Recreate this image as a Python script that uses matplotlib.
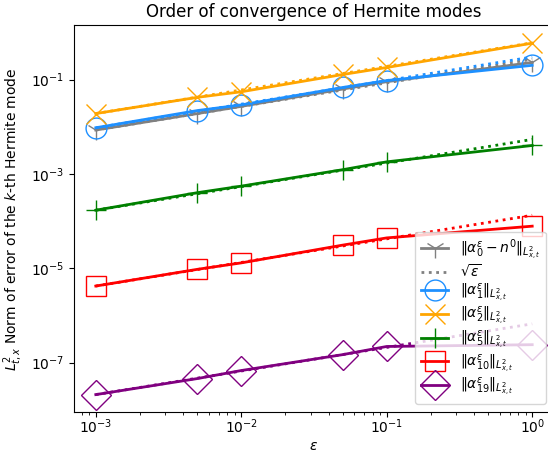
import numpy as np
import matplotlib.pyplot as plt
from matplotlib.ticker import NullLocator

# epsilon values
eps = np.array([1e-3, 5e-3, 1e-2, 5e-2, 1e-1, 1.0])

# errors per Hermite mode
err_n0 = [0.0085, 0.019, 0.027, 0.063, 0.09, 0.23]
err_a1 = [0.0095, 0.022, 0.029, 0.068, 0.095, 0.20]
err_a2 = [0.019, 0.042, 0.055, 0.128, 0.18, 0.59]
err_a5 = [1.7e-4, 4.0e-4, 5.5e-4, 1.23e-3, 1.8e-3, 4.0e-3]
err_a10 = [4.2e-6, 9.5e-6, 1.3e-5, 3.1e-5, 4.4e-5, 7.8e-5]
err_a19 = [2.1e-8, 4.6e-8, 6.8e-8, 1.48e-7, 2.2e-7, 2.4e-7]

yticks = [1e-7, 1e-5, 1e-3, 1e-1]

series = [
    (err_a1, 'dodgerblue', 'o', r'$\|\alpha_1^\varepsilon\|_{L^2_{x,t}}$'),
    (err_a2, 'orange', 'x', r'$\|\alpha_2^\varepsilon\|_{L^2_{x,t}}$'),
    (err_a5, 'green', '+', r'$\|\alpha_5^\varepsilon\|_{L^2_{x,t}}$'),
    (err_a10, 'red', 's', r'$\|\alpha_{10}^\varepsilon\|_{L^2_{x,t}}$'),
    (err_a19, 'purple', 'D', r'$\|\alpha_{19}^\varepsilon\|_{L^2_{x,t}}$'),
]

fig = plt.figure(figsize=(5.48, 4.58), dpi=100)
ax = fig.add_subplot(111)

# reference sqrt(eps) line scaled to first point
def sqrt_ref(err):
    return err[0] * np.sqrt(eps / eps[0])

ax.loglog(eps, err_n0, color='gray', marker='1', markersize=15, linewidth=2,
          label=r'$\|\alpha_0^\varepsilon - n^0\|_{L^2_{x,t}}$')
ax.loglog(eps, sqrt_ref(err_n0), color='gray', linestyle=':', linewidth=2,
          label=r'$\sqrt{\varepsilon}$')

for err, color, marker, label in series:
    ax.loglog(eps, err, color=color, marker=marker, markersize=15, linewidth=2,
              markerfacecolor='none', label=label)
    ax.loglog(eps, sqrt_ref(err), color=color, linestyle=':', linewidth=2)

ax.set_yticks(yticks)
ax.yaxis.set_minor_locator(NullLocator())
ax.tick_params(axis='x', which='major', pad=0.5)

ax.set_xlabel(r'$\varepsilon$', labelpad=2)
ax.set_ylabel(r'$L^2_{t,x}$ Norm of error of the $k$-th Hermite mode')
ax.set_title('Order of convergence of Hermite modes')
ax.legend(loc='lower right', labelspacing=0.1, borderaxespad=0.6)
fig.subplots_adjust(left=0.135, right=1.011, top=0.945, bottom=0.1)
fig.savefig('out.png', dpi=100)
